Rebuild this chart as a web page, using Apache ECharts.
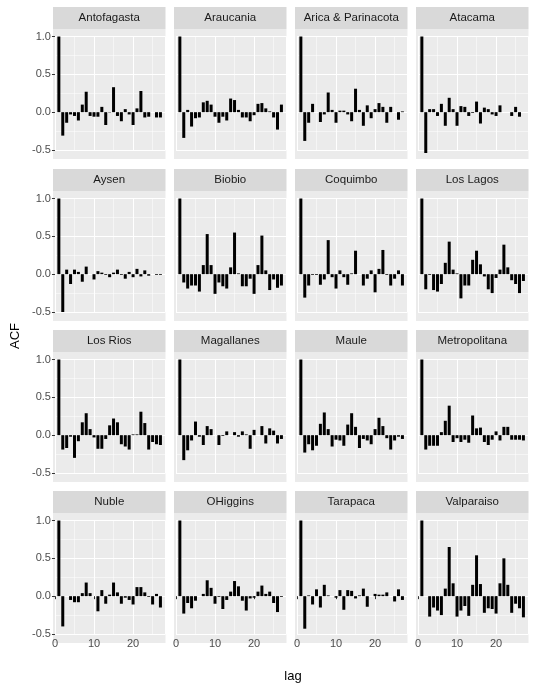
<!DOCTYPE html>
<html><head><meta charset="utf-8">
<script src="https://cdn.jsdelivr.net/npm/echarts@6/dist/echarts.min.js"></script>
<style>html,body{margin:0;padding:0;background:#fff}#c{width:536px;height:688px}</style>
</head><body><div id="c"></div>
<script>
const lags = [1,2,3,4,5,6,7,8,9,10,11,12,13,14,15,16,17,18,19,20,21,22,23,24,25,26,27];
const regions = ["Antofagasta","Araucania","Arica & Parinacota","Atacama","Aysen","Biobio","Coquimbo","Los Lagos","Los Rios","Magallanes","Maule","Metropolitana","Nuble","OHiggins","Tarapaca","Valparaiso"];
const antofagasta = [1.0,-0.31,-0.14,-0.03,-0.05,-0.11,0.10,0.27,-0.05,-0.06,-0.06,0.07,-0.17,-0.005,0.33,-0.05,-0.12,0.04,-0.03,-0.17,0.05,0.28,-0.07,-0.06,0,-0.07,-0.07];
const araucania = [1.0,-0.34,0.03,-0.19,-0.08,-0.07,0.13,0.15,0.10,-0.06,-0.14,-0.06,-0.11,0.18,0.16,0.03,-0.07,-0.07,-0.12,-0.04,0.11,0.12,0.05,0.01,-0.07,-0.23,0.10];
const arica = [1.0,-0.38,-0.14,0.11,0,-0.13,-0.03,0.26,0.03,-0.14,0.02,0.02,-0.03,-0.12,0.31,0.03,-0.18,0.09,-0.08,0.04,0.12,0.07,-0.14,0.07,0,-0.10,0.01];
const atacama = [1.0,-0.54,0.04,0.04,-0.05,0.11,-0.18,0.19,0.04,-0.18,0.08,0.07,-0.05,-0.01,0.14,-0.15,0.06,0.04,-0.03,-0.05,0.09,0,0,-0.05,0.07,-0.06,0];
const aysen = [1.0,-0.50,0.06,-0.13,0.06,0.03,-0.10,0.10,0,-0.07,0.04,0.02,-0.01,-0.04,0.02,0.06,-0.01,-0.06,0.03,-0.04,0.07,-0.03,0.05,-0.02,0,-0.01,-0.01];
const biobio = [1.0,-0.11,-0.19,-0.15,-0.15,-0.23,0.12,0.53,0.12,-0.26,-0.11,-0.16,-0.19,0.09,0.55,0.01,-0.16,-0.16,-0.06,-0.26,0.12,0.51,0.05,-0.21,-0.07,-0.18,-0.15];
const coquimbo = [1.0,-0.31,-0.15,-0.01,-0.01,-0.14,-0.07,0.45,-0.04,-0.19,0.05,-0.04,-0.14,0.01,0.31,0,-0.15,-0.06,0.05,-0.24,0.07,0.32,-0.01,-0.15,-0.06,0.05,-0.15];
const losLagos = [1.0,-0.20,-0.01,-0.21,-0.23,-0.13,0.15,0.43,0.06,0.01,-0.32,-0.15,-0.15,0.19,0.31,0.13,-0.03,-0.20,-0.25,-0.05,0.06,0.39,0.09,-0.08,-0.13,-0.25,-0.09];
const losRios = [1.0,-0.19,-0.17,-0.02,-0.30,-0.08,0.17,0.29,0.08,-0.03,-0.18,-0.18,-0.05,0.13,0.22,0.17,-0.12,-0.15,-0.19,0.01,0.01,0.31,0.16,-0.19,-0.09,-0.12,-0.13];
const magallanes = [1.0,-0.33,-0.20,-0.07,0.18,-0.02,-0.13,0.12,0.08,0,-0.13,-0.01,0.05,0,0.04,-0.02,0.05,0.01,-0.18,0.07,0,0.12,-0.11,0.09,0.06,-0.11,-0.05];
const maule = [1.0,-0.23,-0.12,-0.20,-0.14,0.15,0.30,0.08,-0.15,-0.06,-0.07,-0.14,0.14,0.29,0.11,-0.17,-0.05,-0.07,-0.12,0.08,0.23,0.12,-0.04,-0.19,-0.07,-0.02,-0.05];
const metropolitana = [1.0,-0.19,-0.14,-0.14,-0.14,0.04,0.19,0.39,-0.09,-0.04,-0.09,-0.06,-0.10,0.26,0.09,0.10,-0.09,-0.13,-0.06,0.05,-0.07,0.11,0.11,-0.06,-0.06,-0.06,-0.07];
const nuble = [1.0,-0.40,0,-0.05,-0.08,-0.08,0.04,0.18,0.04,0,-0.20,0.08,-0.10,0.02,0.18,0.05,-0.10,-0.02,-0.05,-0.11,0.12,0.12,0.05,-0.01,-0.11,0.03,-0.15];
const ohiggins = [1.0,-0.23,-0.09,-0.16,-0.06,0,0.03,0.21,0.11,-0.10,-0.01,-0.17,-0.05,0.06,0.20,0.13,-0.06,-0.19,-0.03,-0.02,0.06,0.14,0.03,0.06,-0.09,-0.21,-0.01];
const tarapaca = [1.0,-0.43,0.01,-0.11,0.09,-0.15,0.15,0.01,0,-0.02,0.08,-0.18,0.08,0.07,-0.03,0.01,0.10,-0.14,0,0.03,0.02,0.02,0.05,0,-0.07,0.09,-0.05];
const valparaiso = [1.0,0,-0.27,-0.15,-0.19,-0.25,0.10,0.65,0.17,-0.27,-0.19,-0.13,-0.26,0.15,0.54,0.16,-0.22,-0.16,-0.17,-0.23,0.17,0.50,0.15,-0.22,-0.10,-0.16,-0.28];
const xTicks = [0,10,20];
const yTicks = [-0.5,0,0.5,1.0];

const allValues = [antofagasta,araucania,arica,atacama,aysen,biobio,coquimbo,losLagos,losRios,magallanes,maule,metropolitana,nuble,ohiggins,tarapaca,valparaiso];

const colLeft = [53,174,295,416], panelW = 112.5;
const rowTop = [29,191,352,513], panelH = 130;
const xMin = -0.5, xMax = 28.3;
const pxPerLag = panelW/(xMax-xMin);

const grids=[],xAxes=[],yAxes=[],series=[],graphics=[];
allValues.forEach((vals,i)=>{
  const r=Math.floor(i/4), c=i%4;
  const L=colLeft[c], T=rowTop[r];
  graphics.push({type:'rect',shape:{x:L,y:T,width:panelW,height:panelH},style:{fill:'#ebebeb'},z:-10});
  graphics.push({type:'rect',shape:{x:L,y:T-22,width:panelW,height:22},style:{fill:'#d9d9d9'},z:-10});
  graphics.push({type:'text',x:L+panelW/2,y:T-11,style:{text:regions[i],fill:'#1a1a1a',font:'11.5px "Liberation Sans", Arial, sans-serif',align:'center',verticalAlign:'middle'}});
  const gl=L+(0-xMin)*pxPerLag;
  grids.push({left:gl,top:T+7.5,width:(xMax-0)*pxPerLag,height:113.5});
  xAxes.push({type:'value',gridIndex:i,min:0,max:xMax,interval:10,
    axisLine:{show:false},
    axisTick:{show:r===3,length:3,lineStyle:{color:'#333'}},
    axisLabel:{show:r===3,color:'#4d4d4d',fontSize:11,margin:4,showMaxLabel:false,fontFamily:'Liberation Sans, Arial'},
    splitLine:{show:true,lineStyle:{color:'#fff',width:1.1}},
    minorTick:{show:false,splitNumber:2},
    minorSplitLine:{show:true,lineStyle:{color:'#fff',width:0.5}}});
  yAxes.push({type:'value',gridIndex:i,min:-0.5,max:1.0,interval:0.5,
    axisLine:{show:false},
    axisTick:{show:c===0,length:3,lineStyle:{color:'#333'}},
    axisLabel:{show:c===0,color:'#4d4d4d',fontSize:11,margin:4,formatter:v=>v.toFixed(1),fontFamily:'Liberation Sans, Arial'},
    splitLine:{show:true,lineStyle:{color:'#fff',width:1.1}},
    minorTick:{show:false,splitNumber:2},
    minorSplitLine:{show:true,lineStyle:{color:'#fff',width:0.5}}});
  series.push({type:'bar',xAxisIndex:i,yAxisIndex:i,barWidth:3,clip:false,
    itemStyle:{color:'#000'},silent:true,animation:false,
    data:lags.map((l,k)=>[l,vals[k]])});
});
graphics.push({type:'text',x:293,y:676,style:{text:'lag',fill:'#000',font:'13px "Liberation Sans", Arial',align:'center',verticalAlign:'middle'}});
graphics.push({type:'text',x:15,y:336,rotation:Math.PI/2,style:{text:'ACF',fill:'#000',font:'13px "Liberation Sans", Arial',align:'center',verticalAlign:'middle'}});

const chart=echarts.init(document.getElementById('c'));
chart.setOption({animation:false,grid:grids,xAxis:xAxes,yAxis:yAxes,series:series,graphic:graphics});
</script></body></html>
